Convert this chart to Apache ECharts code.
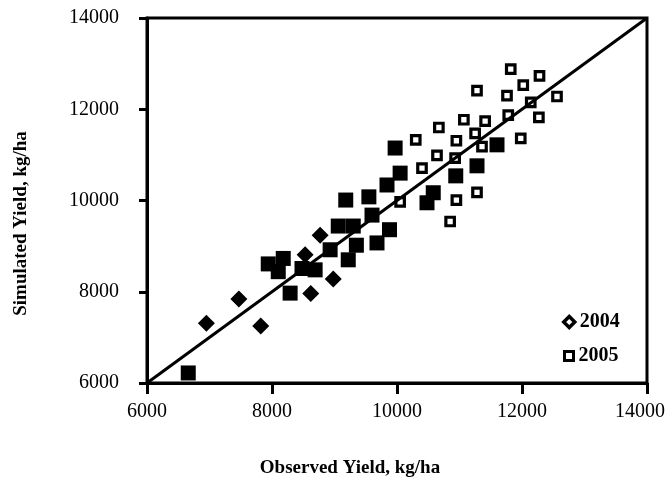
<!DOCTYPE html>
<html>
<head>
<meta charset="utf-8">
<script src="https://cdn.jsdelivr.net/npm/echarts@6/dist/echarts.min.js"></script>
<style>
html,body{margin:0;padding:0;background:#fff;}
#c{width:668px;height:477px;}
</style>
</head>
<body>
<div id="c"></div>
<script>
// Axis ticks
var axisMin = 6000, axisMax = 14000, axisStep = 2000;

// 2004 (filled diamonds): observed / simulated
var obs2004 = [6950, 7470, 7820, 8620, 8980, 8530, 8770];
var sim2004 = [7310, 7840, 7250, 7960, 8280, 8810, 9240];

// Filled squares
var obsFilled = [6660, 7940, 8180, 8100, 8290, 8480, 8690, 8930, 9350, 9220, 9680, 9060, 9300,
                 9180, 9550, 9600, 9880, 9840, 10050, 9970, 10580, 10480, 10940, 11280, 11600];
var simFilled = [6220, 8610, 8730, 8440, 7970, 8510, 8480, 8920, 9020, 8700, 9070, 9440, 9440,
                 10010, 10080, 9680, 9360, 10340, 10600, 11150, 10170, 9950, 10540, 10760, 11220];

// 2005 (open squares)
var obs2005 = [11820, 12280, 12020, 12560, 11280, 11760, 12140, 12270, 11780, 11070, 11410, 10670,
               11250, 11980, 10300, 10950, 11360, 10640, 10930, 10400, 10050, 10950, 11280, 10850];
var sim2005 = [12880, 12730, 12530, 12280, 12410, 12300, 12150, 11820, 11870, 11770, 11740, 11600,
               11470, 11360, 11330, 11310, 11180, 10990, 10930, 10710, 9970, 10010, 10180, 9540];

// 1:1 line
var oneToOne = [6000, 14000];

function zip(a, b) { return a.map(function (v, i) { return [v, b[i]]; }); }
function plain(v) { return String(v); }

var FONT = '"Liberation Serif", "Times New Roman", serif';
var legendText = { fontFamily: FONT, fontWeight: 'bold', fontSize: 20, color: '#000' };
var chart = echarts.init(document.getElementById('c'));
chart.setOption({
  animation: false,
  backgroundColor: '#fff',
  grid: { left: 147, right: 21, top: 18, bottom: 94, outerBoundsMode: 'none', containLabel: false,
          show: true, borderColor: '#000', borderWidth: 3, backgroundColor: 'transparent' },
  legend: [
    {
      orient: 'vertical', left: 557, top: 307, padding: 5, itemWidth: 11, itemHeight: 11, itemTextGap: 2,
      textStyle: legendText,
      data: [{ name: '2004', icon: 'diamond', itemStyle: { color: '#fff', borderColor: '#000', borderWidth: 3.5 } }]
    },
    {
      orient: 'vertical', left: 558, top: 341, padding: 5, itemWidth: 9, itemHeight: 9, itemTextGap: 3,
      textStyle: legendText,
      data: [{ name: '2005', icon: 'rect', itemStyle: { color: '#fff', borderColor: '#000', borderWidth: 3 } }]
    }
  ],
  xAxis: {
    type: 'value', min: axisMin, max: axisMax, interval: axisStep,
    name: 'Observed Yield, kg/ha', nameLocation: 'middle', nameGap: 76,
    nameTextStyle: { fontFamily: FONT, fontWeight: 'bold', fontSize: 19, color: '#000', padding: [0, 94, 0, 0] },
    axisLine: { show: true, lineStyle: { color: '#000', width: 3 } },
    axisTick: { show: true, inside: false, length: 11, lineStyle: { color: '#000', width: 3 } },
    axisLabel: {
      margin: 19, fontFamily: FONT, fontSize: 20, color: '#000',
      formatter: function (v) { return v === axisMax ? '{m|' + v + '}' : String(v); },
      rich: { m: { fontFamily: FONT, fontSize: 20, color: '#000', padding: [0, 14, 0, 0] } }
    },
    splitLine: { show: false }
  },
  yAxis: {
    type: 'value', min: axisMin, max: axisMax, interval: axisStep,
    name: 'Simulated Yield, kg/ha', nameLocation: 'middle', nameGap: 116,
    nameTextStyle: { fontFamily: FONT, fontWeight: 'bold', fontSize: 19, color: '#000', padding: [0, 46, 0, 0] },
    axisLine: { show: true, lineStyle: { color: '#000', width: 3 } },
    axisTick: { show: true, inside: false, length: 8, lineStyle: { color: '#000', width: 3 } },
    axisLabel: { margin: 28, fontFamily: FONT, fontSize: 20, color: '#000', formatter: plain },
    splitLine: { show: false }
  },
  series: [
    {
      name: 'Filled', type: 'scatter', symbol: 'rect', symbolSize: 15,
      itemStyle: { color: '#000', opacity: 1 }, data: zip(obsFilled, simFilled), z: 2
    },
    {
      name: '2004', type: 'scatter', symbol: 'diamond', symbolSize: 17,
      itemStyle: { color: '#000', opacity: 1 }, data: zip(obs2004, sim2004), z: 3
    },
    {
      name: '2005', type: 'scatter', symbol: 'rect', symbolSize: 8.5,
      itemStyle: { color: '#fff', borderColor: '#000', borderWidth: 3.2, opacity: 1 }, data: zip(obs2005, sim2005), z: 4
    },
    {
      name: '1:1', type: 'line', symbol: 'none', silent: true,
      lineStyle: { color: '#000', width: 3 }, data: zip(oneToOne, oneToOne), z: 5
    }
  ]
});
</script>
</body>
</html>
